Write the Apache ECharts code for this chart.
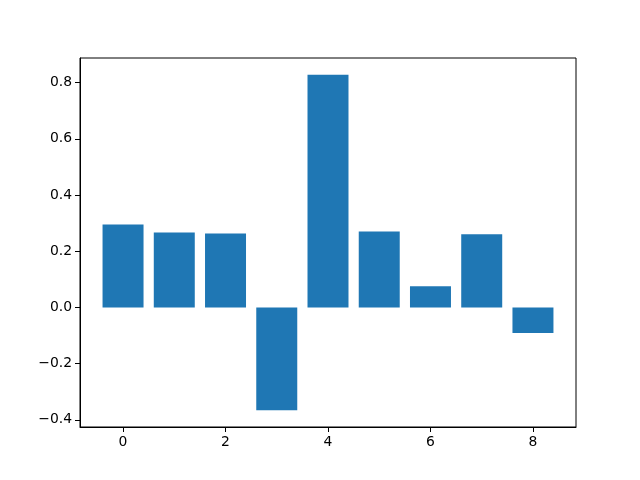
<!DOCTYPE html>
<html lang="en">
<head>
    <meta charset="UTF-8">
    <title>Bar chart</title>
    <script src="https://cdn.jsdelivr.net/npm/echarts@6/dist/echarts.min.js"></script>
    <style>
        *{
            padding: 0;
            margin: 0;
        }
        html, body{
            width: 100%;
            height: 100%;
            background: #fff;
        }
        .echarts{
            width: 640px;
            height: 480px;
        }
    </style>
</head>
<body>
<div class="echarts"></div>
<script>
    // bar positions and heights
    let positions = [0, 1, 2, 3, 4, 5, 6, 7, 8];
    let values = [0.295, 0.267, 0.263, -0.366, 0.828, 0.270, 0.075, 0.260, -0.091];
    let xTicks = [0, 2, 4, 6, 8];
    let yTicks = [-0.4, -0.2, 0.0, 0.2, 0.4, 0.6, 0.8];

    window.onload = function () {
        let main = document.querySelector('.echarts');
        let myCharts = echarts.init(main);
        let barWidth = 0.8;

        let hi = Math.max(...values);
        let pad = (hi - Math.min(0, ...values)) * 0.05;
        let xPad = (positions[positions.length - 1] - positions[0] + barWidth) * 0.05;

        let data = positions.map((p, i) => [p, values[i]]);

        let axisCommon = {
            axisLine: {show: true, onZero: false, lineStyle: {color: '#000', width: 1}},
            axisTick: {show: true, inside: false, length: 5, lineStyle: {color: '#000', width: 1}},
            axisLabel: {color: '#000', fontFamily: 'DejaVu Sans', fontSize: 13.9, margin: 8},
            splitLine: {show: false}
        };

        let option = {
            animation: false,
            backgroundColor: '#fff',
            grid: {
                left: 80, right: 64, top: 58, bottom: 53,
                show: true, borderColor: '#000', borderWidth: 1, backgroundColor: 'transparent'
            },
            xAxis: Object.assign({}, axisCommon, {
                type: 'value',
                min: positions[0] - barWidth / 2 - xPad,
                max: positions[positions.length - 1] + barWidth / 2 + xPad,
                axisTick: Object.assign({}, axisCommon.axisTick, {customValues: xTicks}),
                axisLabel: Object.assign({}, axisCommon.axisLabel, {
                    customValues: xTicks,
                    formatter: v => String(v)
                })
            }),
            yAxis: Object.assign({}, axisCommon, {
                type: 'value',
                min: Math.min(0, ...values) - pad,
                max: hi + pad,
                axisTick: Object.assign({}, axisCommon.axisTick, {customValues: yTicks}),
                axisLabel: Object.assign({}, axisCommon.axisLabel, {
                    customValues: yTicks,
                    formatter: v => (v < 0 ? '\u2212' : '') + Math.abs(v).toFixed(1)
                })
            }),
            series: [{
                type: 'custom',
                data: data,
                renderItem: function (params, api) {
                    let x = api.value(0);
                    let v = api.value(1);
                    let p1 = api.coord([x - barWidth / 2, Math.max(v, 0)]);
                    let p2 = api.coord([x + barWidth / 2, Math.min(v, 0)]);
                    return {
                        type: 'rect',
                        shape: {x: p1[0], y: p1[1], width: p2[0] - p1[0], height: p2[1] - p1[1]},
                        style: {fill: '#1f77b4'}
                    };
                }
            }]
        };
        myCharts.setOption(option);
    }
</script>
</body>
</html>
